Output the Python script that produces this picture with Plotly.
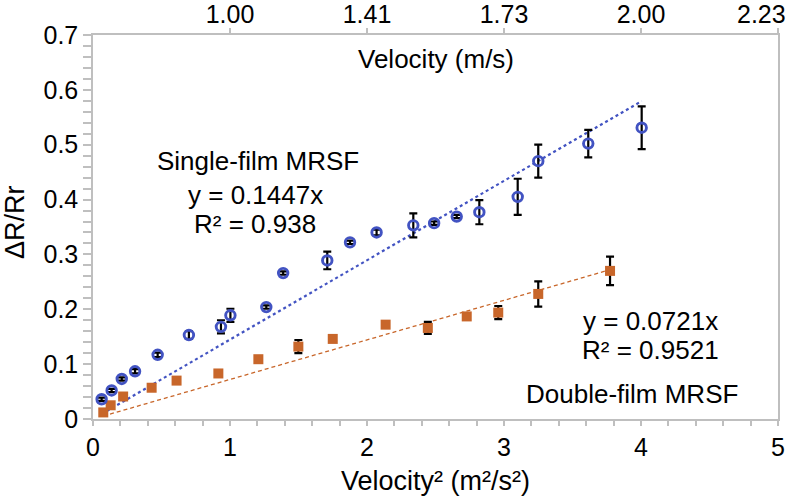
import plotly.graph_objects as go

# Single-film MRSF
single_x = [0.063, 0.136, 0.21, 0.307, 0.472, 0.70, 0.934, 1.003, 1.265, 1.388, 1.71, 1.876, 2.07, 2.338, 2.49, 2.655, 2.82, 3.10, 3.25, 3.615, 4.005]
single_y = [0.036, 0.052, 0.073, 0.087, 0.117, 0.153, 0.168, 0.189, 0.204, 0.266, 0.289, 0.322, 0.340, 0.353, 0.357, 0.369, 0.377, 0.405, 0.470, 0.502, 0.531]
single_err = [0.003, 0.003, 0.003, 0.004, 0.004, 0.007, 0.012, 0.012, 0.003, 0.003, 0.016, 0.003, 0.005, 0.022, 0.003, 0.003, 0.022, 0.033, 0.030, 0.025, 0.039]
single_slope = 0.1447

# Double-film MRSF
double_x = [0.075, 0.129, 0.22, 0.428, 0.61, 0.915, 1.207, 1.499, 1.75, 2.136, 2.444, 2.728, 2.958, 3.25, 3.774]
double_y = [0.012, 0.025, 0.041, 0.057, 0.070, 0.083, 0.109, 0.132, 0.146, 0.172, 0.166, 0.187, 0.194, 0.228, 0.270]
double_err = [0.002, 0.002, 0.002, 0.002, 0.002, 0.002, 0.002, 0.012, 0.002, 0.002, 0.011, 0.002, 0.012, 0.023, 0.026]
double_slope = 0.0721

bottom_ticks = [0, 1, 2, 3, 4, 5]
top_tick_positions = [1, 2, 3, 4, 5]
top_tick_labels = ["1.00", "1.41", "1.73", "2.00", "2.23"]
y_ticks = [0, 0.1, 0.2, 0.3, 0.4, 0.5, 0.6, 0.7]
y_tick_labels = ["0", "0.1", "0.2", "0.3", "0.4", "0.5", "0.6", "0.7"]

BLUE = "#4253c2"
ORANGE = "#c8662a"
GRAY = "#bfbfbf"
FONT = "Liberation Sans, Arial, sans-serif"

L, R, T, B = 93, 778, 35, 419  # plot area in pixels (for annotation placement)

fig = go.Figure()

# trend lines
sx = [min(single_x), max(single_x)]
fig.add_trace(go.Scatter(x=sx, y=[single_slope * v for v in sx], mode="lines",
                         line=dict(color=BLUE, width=2.2, dash="dot"), hoverinfo="skip"))
dx = [min(double_x), max(double_x)]
fig.add_trace(go.Scatter(x=dx, y=[double_slope * v for v in dx], mode="lines",
                         line=dict(color=ORANGE, width=1.3, dash="4px,3px"), hoverinfo="skip"))

fig.add_trace(go.Scatter(x=double_x, y=double_y, mode="markers",
                         marker=dict(symbol="square", size=10, color=ORANGE),
                         error_y=dict(type="data", array=double_err, color="black", thickness=2.2, width=4)))
fig.add_trace(go.Scatter(x=single_x, y=single_y, mode="markers",
                         marker=dict(symbol="circle-open", size=9.5, color=BLUE, line=dict(width=2.9, color=BLUE)),
                         error_y=dict(type="data", array=single_err, color="black", thickness=2.2, width=4)))

# dummy trace on top axis
fig.add_trace(go.Scatter(x=[None], y=[None], xaxis="x2", showlegend=False))

# the last top label would overflow the page edge; it is drawn as an annotation shifted left (as in the reference)
top_ticktext = top_tick_labels[:-1] + [""]

tickfont = dict(family=FONT, size=25, color="black")
fig.update_layout(
    width=791, height=498,
    margin=dict(l=L, r=791 - R, t=T, b=498 - B),
    paper_bgcolor="white", plot_bgcolor="white",
    showlegend=False,
    font=dict(family=FONT, color="black"),
    xaxis=dict(range=[0, 5], tickvals=bottom_ticks, ticks="outside", ticklen=5, tickcolor=GRAY,
               tickwidth=1.5, showline=True, linecolor=GRAY, linewidth=1.5, showgrid=False,
               zeroline=False, tickfont=tickfont, automargin=False, ticklabeloverflow="allow",
               minor=dict(dtick=0.2, ticks="outside", ticklen=5, tickcolor=GRAY, tickwidth=1.5, showgrid=False)),
    xaxis2=dict(range=[0, 5], overlaying="x", side="top", tickvals=top_tick_positions, ticktext=top_ticktext,
                ticks="outside", ticklen=5, tickcolor=GRAY, tickwidth=1.5, showline=True, linecolor=GRAY,
                linewidth=1.5, showgrid=False, zeroline=False, tickfont=tickfont, automargin=False,
                ticklabeloverflow="allow", ticklabelstandoff=-5),
    yaxis=dict(range=[0, 0.7], tickvals=y_ticks, ticktext=y_tick_labels, ticks="outside", ticklen=8,
               tickcolor=GRAY, tickwidth=1.5, showline=True, linecolor=GRAY, linewidth=1.5, mirror=True,
               showgrid=False, zeroline=False, tickfont=tickfont, automargin=False, ticklabeloverflow="allow",
               minor=dict(dtick=0.02, ticks="outside", ticklen=8, tickcolor=GRAY, tickwidth=1.5, showgrid=False)),
)

annotations = [
    (top_tick_labels[-1], 761, 14, 25, 0),
    ("Velocity (m/s)", 436, 59, 26, 0),
    ("Single-film MRSF", 258, 161, 26, 0),
    ("y = 0.1447x", 255, 195, 26, 0),
    ("R² = 0.938", 255, 224, 26, 0),
    ("y = 0.0721x", 650, 321, 26, 0),
    ("R² = 0.9521", 650, 350, 26, 0),
    ("Double-film MRSF", 632, 394, 26, 0),
    ("Velocity² (m²/s²)", 435, 481, 27, 0),
    ("ΔR/Rr", 15, 222, 27, -90),
]
for text, px, py, sz, ang in annotations:
    fig.add_annotation(text=text, xref="paper", yref="paper",
                       x=(px - L) / (R - L), y=(B - py) / (B - T),
                       showarrow=False, font=dict(family=FONT, size=sz, color="black"),
                       xanchor="center", yanchor="middle", textangle=ang)

fig.write_html("out.html", config={"displayModeBar": False},
               post_script="document.body.style.margin='0';document.body.style.overflow='hidden';")
